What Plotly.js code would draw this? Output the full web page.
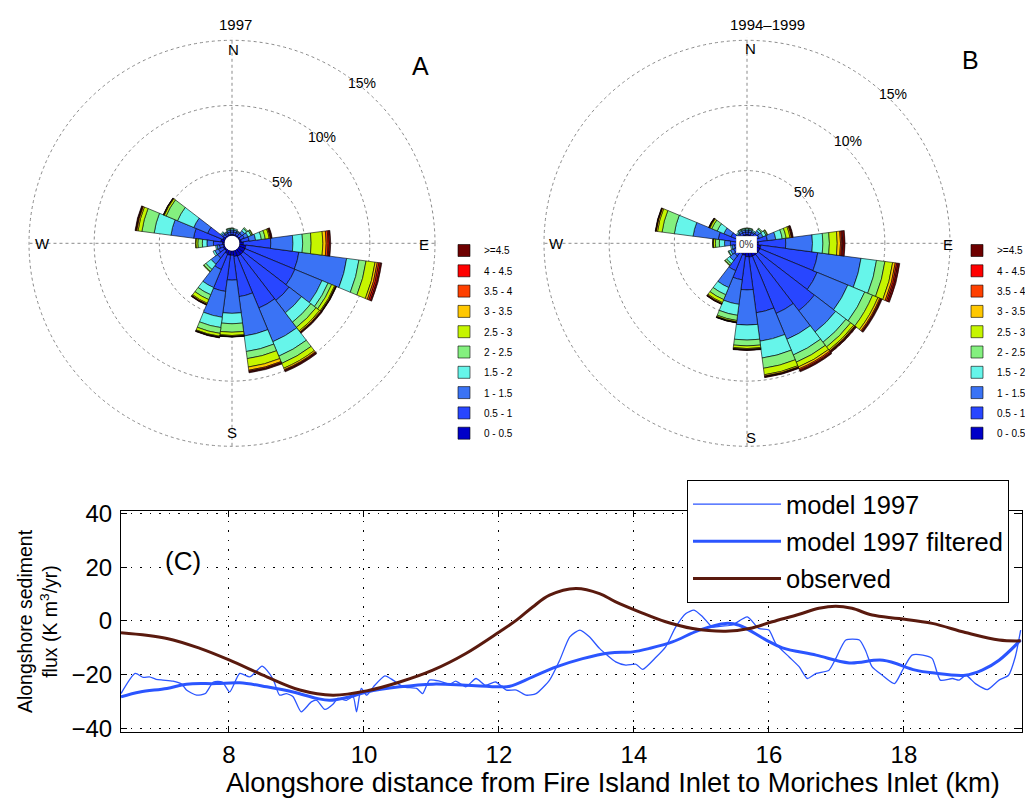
<!DOCTYPE html>
<html><head><meta charset="utf-8">
<script src="https://cdn.plot.ly/plotly-3.0.1.min.js"></script>
<style>html,body{margin:0;padding:0;background:#fff;overflow:hidden;width:1025px;height:798px}#chart{width:1025px;height:798px}</style>
</head><body><div id="chart"></div>
<script>
// ---------- wave rose data (percent of time per 15-degree bin, stacked by class) ----------
const directions = [0,15,30,45,60,75,90,105,120,135,150,165,180,195,210,225,240,255,270,285,300,315,330,345];
const classLabels = ["0 - 0.5","0.5 - 1","1 - 1.5","1.5 - 2","2 - 2.5","2.5 - 3","3 - 3.5","3.5 - 4","4 - 4.5",">=4.5"];
const classColors = ["#0000c8","#2846ff","#3a73f5","#66f5ea","#84f07f","#c6f500","#ffc800","#ff4000","#ff0000","#6e0000"];

// Rose A (1997)
const roseA_00_05 = [0.1,0.1,0.1,0.1,0.1,0.15,0.3,0.5,0.5,0.5,0.5,0.45,0.35,0.35,0.3,0.15,0.15,0.1,0.15,0.3,0.2,0.1,0.1,0.1];
const roseA_05_10 = [0.2,0.2,0.2,0.3,0.35,0.6,2.1,4.1,4.15,4.45,4.3,3.1,1.9,2.8,1.3,0.7,0.4,0.3,0.7,2.1,1.25,0.2,0.15,0.2];
const roseA_10_15 = [0.15,0.15,0.1,0.25,0.3,0.5,1.7,3.7,2.25,1.2,2.8,3.05,2.55,2.0,1.5,0.6,0.3,0.2,0.5,1.75,1.15,0.15,0.1,0.15];
const roseA_15_20 = [0.1,0.1,0.05,0.2,0.25,0.45,0.75,0.95,0.5,0.9,1.2,1.2,0.8,0.8,0.6,0.5,0.15,0.1,0.35,1.3,1.35,0.1,0.05,0.1];
const roseA_20_25 = [0.05,0,0,0.1,0.1,0.3,0.65,0.55,0.3,0.5,0.6,0.55,0.65,0.45,0.4,0.2,0,0,0.35,0.95,0.95,0,0,0.05];
const roseA_25_30 = [0,0,0,0,0.05,0.3,0.9,0.7,0.25,0.35,0.4,0.65,0.25,0.22,0.3,0.05,0,0,0.15,0.3,0.15,0,0,0];
const roseA_30_35 = [0,0,0,0,0,0.08,0.25,0.17,0.07,0.1,0.12,0.25,0.07,0.06,0.08,0,0,0,0.03,0.1,0.05,0,0,0];
const roseA_35_40 = [0,0,0,0,0,0.05,0.15,0.13,0.04,0.05,0.06,0.08,0.02,0.02,0.03,0,0,0,0,0.05,0.02,0,0,0];
const roseA_40_45 = [0,0,0,0,0,0.05,0.1,0.12,0.02,0.03,0.05,0.05,0.01,0.02,0.02,0,0,0,0,0.03,0,0,0,0];
const roseA_45_up = [0,0,0,0,0,0.05,0.1,0.1,0.03,0.05,0.07,0.07,0.02,0.03,0.03,0,0,0,0,0.05,0.02,0,0,0];

// Rose B (1994-1999)
const roseB_00_05 = [0.1,0.1,0.1,0.1,0.1,0.2,0.3,0.5,0.5,0.5,0.5,0.5,0.45,0.35,0.3,0.15,0.15,0.1,0.15,0.25,0.15,0.1,0.1,0.1];
const roseB_05_10 = [0.2,0.2,0.2,0.3,0.35,0.8,2.1,4.4,4.75,5.45,4.75,4.3,2.55,1.9,1.4,0.5,0.4,0.3,0.55,1.4,0.6,0.2,0.2,0.2];
const roseB_10_15 = [0.15,0.15,0.1,0.25,0.3,0.65,2.05,3.35,2.55,2.05,2.15,2.2,2.7,1.9,1.4,0.45,0.25,0.2,0.45,1.95,0.6,0.1,0.15,0.15];
const roseB_15_20 = [0.1,0.1,0.1,0.15,0.25,0.5,0.8,1.2,1.4,1.0,1.3,1.3,1.15,0.85,0.6,0.3,0.15,0.1,0.4,1.45,0.55,0.1,0.1,0.1];
const roseB_20_25 = [0.05,0.05,0,0.1,0.1,0.3,0.5,0.65,0.65,0.45,0.6,0.8,0.45,0.4,0.4,0.15,0.05,0,0.3,0.95,0.45,0,0.05,0.05];
const roseB_25_30 = [0,0,0,0,0.05,0.3,0.6,0.6,0.45,0.3,0.4,0.5,0.2,0.1,0.25,0.05,0,0,0.15,0.35,0.15,0,0,0];
const roseB_30_35 = [0,0,0,0,0,0.1,0.25,0.2,0.15,0.1,0.15,0.1,0.07,0.04,0.08,0,0,0,0.05,0.1,0.05,0,0,0];
const roseB_35_40 = [0,0,0,0,0,0.05,0.1,0.12,0.08,0.05,0.1,0.04,0.03,0.02,0.03,0,0,0,0.01,0.03,0.02,0,0,0];
const roseB_40_45 = [0,0,0,0,0,0.05,0.08,0.1,0.05,0.04,0.07,0.03,0.02,0.01,0.02,0,0,0,0,0.02,0.02,0,0,0];
const roseB_45_up = [0,0,0,0,0,0.05,0.17,0.13,0.07,0.06,0.08,0.05,0.03,0.02,0.03,0,0,0,0,0.03,0.02,0,0,0];

const radialTicks = [5,10,15];
const radialTickText = ["5%","10%","15%"];
const compassLabels = ["N","E","S","W"];

// ---------- alongshore flux data (panel C) ----------
const obsX = [6.40,7.08,7.57,8.01,8.56,9.05,9.54,10.04,10.53,11.02,11.51,12.01,12.26,12.50,12.75,13.14,13.49,13.73,14.08,14.47,14.87,15.36,15.71,16.05,16.45,16.74,16.99,17.23,17.53,17.93,18.42,18.91,19.41,19.73];
const obsY = [-4.4,-6.5,-10.2,-14.6,-20.8,-25.7,-27.6,-26.0,-22.7,-18.3,-12.1,-4.0,0.3,5.2,9.6,12.1,10.2,7.1,3.4,-0.3,-2.8,-3.8,-2.8,-0.3,2.5,4.7,5.5,4.7,2.2,0.9,-0.9,-4.3,-7.1,-7.4];

const filtX = [6.40,6.68,7.08,7.37,7.81,8.16,8.56,8.95,9.30,9.49,9.79,10.04,10.53,11.02,11.51,12.01,12.16,12.50,12.85,13.24,13.64,13.98,14.23,14.57,14.97,15.36,15.56,15.96,16.20,16.70,17.19,17.69,18.17,18.42,18.91,19.16,19.41,19.73];
const filtY = [-28.2,-26.4,-25.1,-23.5,-23.3,-23.0,-24.5,-26.4,-28.8,-29.5,-28.2,-26.4,-24.5,-23.5,-23.9,-24.5,-24.3,-20.8,-17.1,-14.0,-11.9,-11.5,-10.2,-7.8,-3.4,-0.9,-1.6,-7.1,-10.0,-12.7,-15.6,-14.6,-18.3,-19.3,-20.2,-18.3,-14.6,-7.1];

const rawX = [6.40,6.61,6.73,6.82,6.92,7.02,7.17,7.30,7.37,7.52,7.65,7.77,7.90,8.01,8.16,8.31,8.49,8.56,8.66,8.75,8.85,8.95,9.07,9.22,9.30,9.42,9.54,9.61,9.74,9.84,9.89,9.96,10.04,10.14,10.31,10.43,10.58,10.78,10.87,10.97,11.12,11.27,11.36,11.51,11.66,11.80,11.95,12.11,12.26,12.40,12.55,12.75,12.90,13.05,13.20,13.34,13.49,13.73,13.88,14.03,14.13,14.33,14.47,14.62,14.77,14.89,15.02,15.16,15.31,15.46,15.68,15.85,16.00,16.10,16.30,16.45,16.57,16.70,16.89,16.99,17.14,17.34,17.43,17.53,17.68,17.86,17.98,18.12,18.28,18.42,18.54,18.72,18.82,18.92,19.06,19.24,19.41,19.55,19.65,19.73];
const rawY = [-27.0,-19.5,-21.0,-20.8,-21.7,-22.0,-22.4,-23.5,-25.7,-27.6,-27.0,-22.7,-22.7,-26.4,-19.5,-20.8,-16.8,-18.3,-22.0,-27.6,-27.0,-28.2,-33.8,-30.1,-29.5,-32.9,-31.0,-28.8,-29.5,-28.2,-33.8,-25.1,-27.6,-24.5,-20.4,-22.0,-24.5,-25.1,-27.0,-22.0,-22.4,-23.5,-22.4,-24.5,-21.4,-23.9,-22.7,-25.7,-25.7,-27.6,-27.0,-22.0,-14.6,-5.9,-3.4,-5.9,-10.2,-15.2,-16.4,-16.1,-18.0,-13.4,-9.6,-2.2,2.8,4.0,1.5,-2.2,-1.9,-1.5,1.5,-2.8,-3.4,-8.4,-13.4,-17.1,-21.4,-19.5,-18.3,-14.0,-7.1,-7.1,-10.9,-17.1,-20.2,-23.3,-18.3,-12.7,-12.7,-14.0,-22.0,-21.4,-22.0,-20.2,-23.3,-25.5,-22.0,-20.2,-13.4,-3.4];

const xTicks = [8,10,12,14,16,18];
const yTicks = [-40,-20,0,20,40];

// ---------- build traces ----------
const FONT = "Liberation Sans, Arial, Helvetica, sans-serif";
const roseASeries = [roseA_00_05,roseA_05_10,roseA_10_15,roseA_15_20,roseA_20_25,roseA_25_30,roseA_30_35,roseA_35_40,roseA_40_45,roseA_45_up];
const roseBSeries = [roseB_00_05,roseB_05_10,roseB_10_15,roseB_15_20,roseB_20_25,roseB_25_30,roseB_30_35,roseB_35_40,roseB_40_45,roseB_45_up];

const traces = [];
function addRose(series, subplot, legendId, tag) {
  series.forEach((vals, i) => {
    traces.push({
      type: "barpolar", subplot: subplot, legend: legendId, legendgroup: tag + i,
      legendrank: 100 - i,
      r: vals, theta: directions, width: 15,
      name: classLabels[i],
      marker: {color: classColors[i], line: {color: "#000", width: 0.6}},
      hoverinfo: "skip"
    });
  });
}
addRose(roseASeries, "polar", "legend", "A");
addRose(roseBSeries, "polar2", "legend2", "B");

traces.push({type:"scatter", mode:"lines", x: rawX, y: rawY, name:"model 1997", legend:"legend3", legendgroup:"g1",
  line:{color:"#2b55ff", width:1.3, shape:"spline", smoothing:0.6}, hoverinfo:"skip"});
traces.push({type:"scatter", mode:"lines", x: filtX, y: filtY, name:"model 1997 filtered", legend:"legend3", legendgroup:"g2",
  line:{color:"#2b55ff", width:3, shape:"spline"}, hoverinfo:"skip"});
traces.push({type:"scatter", mode:"lines", x: obsX, y: obsY, name:"observed", legend:"legend3", legendgroup:"g3",
  line:{color:"#5a1a0e", width:3, shape:"spline"}, hoverinfo:"skip"});

const W = 1025, H = 798;
const px = v => v / W, py = v => 1 - v / H;

// radial range slightly beyond 15 so the 15% ring is drawn; outer radius 205.6 px, hole 7.5 px
const R_OUT = 205.6;
function polarLayout(cx, cy) {
  return {
    domain: {x: [px(cx - R_OUT), px(cx + R_OUT)], y: [py(cy + R_OUT), py(cy - R_OUT)]},
    hole: 0.0365,
    bgcolor: "rgba(0,0,0,0)",
    barmode: "stack",
    angularaxis: {
      rotation: 90, direction: "clockwise",
      tickvals: [0,90,180,270], ticktext: compassLabels, showticklabels: false, ticks: "",
      showline: false, showgrid: true, gridcolor: "#8a8a8a", griddash: "dot", gridwidth: 1
    },
    radialaxis: {
      range: [0, 15.2], tickvals: radialTicks, ticktext: radialTickText,
      showticklabels: false, showline: false, ticks: "",
      showgrid: true, gridcolor: "#8a8a8a", griddash: "dot", gridwidth: 1
    }
  };
}

const ann = [];
function txt(x, y, t, size, extra) {
  ann.push(Object.assign({xref:"paper", yref:"paper", x: px(x), y: py(y), text: t, showarrow:false,
    font:{size:size, color:"#000", family:FONT}, xanchor:"center", yanchor:"middle"}, extra||{}));
}
// rose A labels
txt(235, 24, "1997", 15);
txt(420, 66, "A", 25);
txt(233, 50, compassLabels[0], 15); txt(424, 244, compassLabels[1], 15); txt(232, 432, compassLabels[2], 15); txt(42, 243, compassLabels[3], 15);
txt(282, 182, radialTickText[0], 14); txt(322, 137, radialTickText[1], 14); txt(362, 83, radialTickText[2], 14);
// rose B labels
txt(767, 24, "1994\u20131999", 15);
txt(970, 60, "B", 25);
txt(750, 48, compassLabels[0], 15); txt(948, 244, compassLabels[1], 15); txt(751, 437, compassLabels[2], 15); txt(556, 243, compassLabels[3], 15);
txt(804, 192, radialTickText[0], 14); txt(848, 141, radialTickText[1], 14); txt(893, 94, radialTickText[2], 14);
txt(746, 244, "0%", 10, {bgcolor:"#fff", bordercolor:"#ddd", borderwidth:1, borderpad:2, font:{size:10,color:"#333",family:FONT}});
// panel C labels
txt(182.5, 560.5, "(C)", 26);
txt(613, 782, "Alongshore distance from Fire Island Inlet to Moriches Inlet (km)", 27.3);

const roseLegend = (x) => ({
  x: px(x), y: py(236), xanchor: "left", yanchor: "top",
  traceorder: "grouped", tracegroupgap: 1.3, bgcolor: "rgba(0,0,0,0)", borderwidth: 0,
  font: {size: 10, family: FONT, color: "#000"}, itemwidth: 30
});

const layout = {
  width: W, height: H,
  margin: {l:0, r:0, t:0, b:0, autoexpand: false},
  paper_bgcolor: "#fff", plot_bgcolor: "#fff",
  font: {family: FONT, color: "#000"},
  showlegend: true,
  polar: polarLayout(232, 243.3),
  polar2: polarLayout(747, 243.3),
  xaxis: {
    domain: [px(121), px(1022)], range: [6.4, 19.75],
    tickvals: xTicks, ticks: "inside", ticklen: 6, tickcolor: "#000",
    showline: true, linecolor: "#000", linewidth: 1, mirror: "ticks",
    showgrid: true, gridcolor: "#000", gridwidth: 1, griddash: "1.5px,8px",
    zeroline: false, automargin: false,
    tickfont: {size: 24, family: FONT, color: "#000"}, ticklabelstandoff: 1
  },
  yaxis: {
    domain: [py(732), py(511)], range: [-41.3, 40.9],
    tickvals: yTicks, ticks: "inside", ticklen: 6, tickcolor: "#000",
    showline: true, linecolor: "#000", linewidth: 1, mirror: "ticks",
    showgrid: true, gridcolor: "#000", gridwidth: 1, griddash: "1.5px,8px",
    zeroline: false, automargin: false,
    tickfont: {size: 24, family: FONT, color: "#000"}, ticklabelstandoff: 3,
    title: {text: "Alongshore sediment<br>flux (K m<sup>3</sup>/yr)", font: {size: 19.5, family: FONT, color:"#000"}, standoff: 8}
  },
  legend: roseLegend(444),
  legend2: roseLegend(957),
  legend3: {
    x: px(687), y: py(480), xanchor: "left", yanchor: "top",
    bgcolor: "#fff", bordercolor: "#000", borderwidth: 1,
    font: {size: 25.5, family: FONT, color: "#000"},
    traceorder: "grouped", tracegroupgap: 1, itemwidth: 88
  },
  annotations: ann
};

Plotly.newPlot("chart", traces, layout, {staticPlot: true, displayModeBar: false});
</script>
</body></html>
